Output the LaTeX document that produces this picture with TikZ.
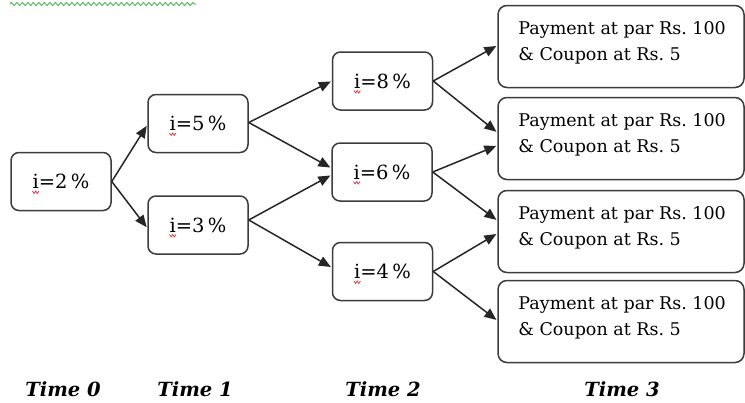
\documentclass[tikz,border=0pt]{standalone}
\usepackage{fontspec}
\setmainfont{DejaVu Serif}
\usetikzlibrary{arrows.meta,calc,decorations.pathmorphing}
\definecolor{boxline}{RGB}{60,60,60}
\definecolor{spellgreen}{RGB}{95,185,95}
\definecolor{spellred}{RGB}{230,40,40}
\tikzset{
  rate/.style={draw=boxline, line width=1.5pt, rounded corners=8pt, minimum width=100pt, minimum height=58pt, inner sep=0pt, font=\fontsize{19.5}{22}\selectfont},
  payoff/.style={draw=boxline, line width=1.5pt, rounded corners=9pt, minimum width=246pt, minimum height=82pt, inner sep=0pt},
  paytext/.style={align=left, anchor=west, inner sep=0pt, font=\fontsize{17.5}{26}\selectfont},
  timelabel/.style={font=\fontsize{19.5}{22}\selectfont\bfseries\itshape, inner sep=0pt},
  conn/.style={draw=black!85, line width=1.5pt, -{Triangle[length=12pt,width=10pt]}, shorten >=1pt},
  redsq/.style={draw=spellred, line width=0.7pt},
}
\newcommand{\pctext}[1]{i=#1\,\%}
\begin{document}
\begin{tikzpicture}[x=1pt,y=-1pt]
\useasboundingbox (0,0) rectangle (745,402);
% green spellcheck squiggle
\coordinate (g1) at (10,4);
\coordinate (g2) at (196,4);
\draw[spellgreen, line width=1pt, decorate, decoration={zigzag, segment length=5.5pt, amplitude=1.6pt}] (g1) -- (g2);

% rate nodes
\node[rate] (n0) at (61,181.5) {\pctext{2}};
\node[rate] (n1a) at (198,123.5) {\pctext{5}};
\node[rate] (n1b) at (198,225) {\pctext{3}};
\node[rate] (n2a) at (382.5,81) {\pctext{8}};
\node[rate] (n2b) at (382,172) {\pctext{6}};
\node[rate] (n2c) at (382.5,271.5) {\pctext{4}};

% red squiggles under the i
\foreach \n in {n0,n1a,n1b,n2a,n2b,n2c}{
  \draw[redsq] ($(\n.center)+(-28.5,9.5)$) -- ++(1.6,2.5) -- ++(1.6,-2.5) -- ++(1.6,2.5) -- ++(1.6,-2.5);
}

% payoff boxes
\node[payoff] (r1) at (621,46.5) {};
\node[payoff] (r2) at (621,138.5) {};
\node[payoff] (r3) at (621,231.5) {};
\node[payoff] (r4) at (621,321.5) {};
\foreach \r in {r1,r2,r3,r4}{
  \node[paytext] (\r t) at ($(\r.west)+(21,-4)$) {Payment at par Rs.\ 100\\\& Coupon at Rs.\ 5};
}

% connectors
\draw[conn] (n0.east) -- ($(n1a.west)+(0,1.5)$);
\draw[conn] (n0.east) -- ($(n1b.west)+(0,3)$);
\draw[conn] ($(n1a.east)+(0,-1)$) -- (n2a.west);
\draw[conn] ($(n1a.east)+(0,-1)$) -- ($(n2b.west)+(0,-4)$);
\draw[conn] ($(n1b.east)+(0,-5)$) -- ($(n2b.west)+(0,3)$);
\draw[conn] ($(n1b.east)+(0,-5)$) -- ($(n2c.west)+(0,-4)$);
\draw[conn] (n2a.east) -- ($(r1.west)+(0,-1)$);
\draw[conn] (n2a.east) -- ($(r2.west)+(0,-6)$);
\draw[conn] (n2b.east) -- ($(r2.west)+(0,7)$);
\draw[conn] (n2b.east) -- ($(r3.west)+(0,-11)$);
\draw[conn] (n2c.east) -- ($(r3.west)+(0,2)$);
\draw[conn] (n2c.east) -- ($(r4.west)+(0,-1)$);

% time labels
\node[timelabel] (t0) at (63,389) {Time 0};
\node[timelabel] (t1) at (195,389) {Time 1};
\node[timelabel] (t2) at (383,389) {Time 2};
\node[timelabel] (t3) at (622,389) {Time 3};
\end{tikzpicture}
\end{document}
